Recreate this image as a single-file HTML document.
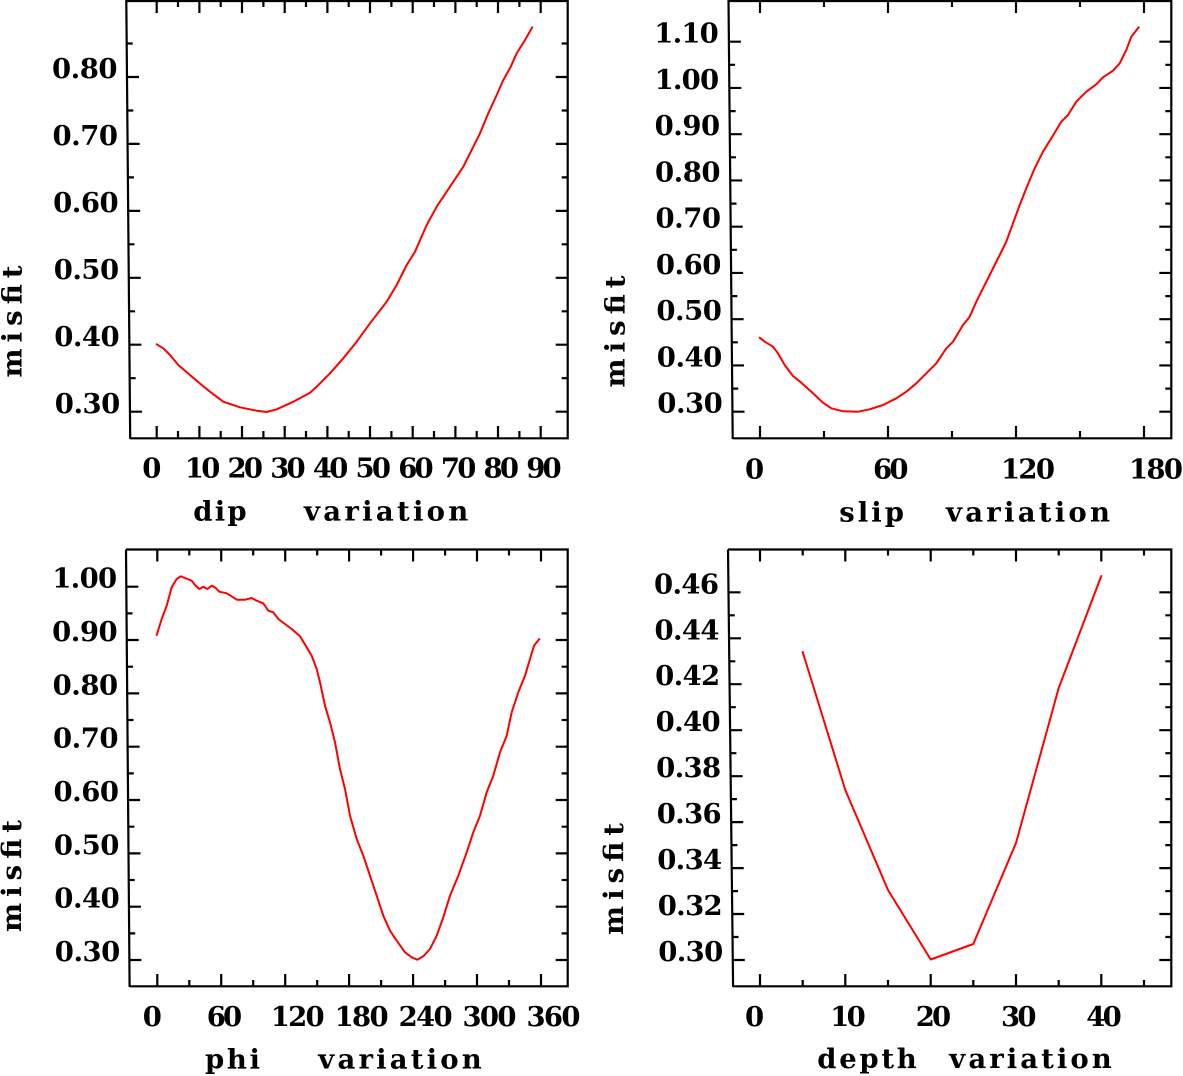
<!DOCTYPE html>
<html><head><meta charset="utf-8"><style>
html,body{margin:0;padding:0;background:#fff;}
svg{display:block;}
text{font-family:"DejaVu Serif","Liberation Serif",serif;font-weight:bold;font-size:27.5px;fill:#000;}
</style></head><body>
<svg width="1183" height="1076" viewBox="0 0 1183 1076" xmlns="http://www.w3.org/2000/svg">
<rect width="1183" height="1076" fill="#fff"/>
<g fill="none" stroke="#000" stroke-width="2.2">
<!-- TL frame -->
<path d="M126.3 0 L130.2 439"/>
<path d="M126.3 1 H567.7 V438.3 H130.2"/>
<path d="M156.7 438V426M199.4 438V426M242 438V426M284.7 438V426M327.4 438V426M370 438V426M412.7 438V426M455.4 438V426M498 438V426M540.7 438V426
M178 438V431M220.7 438V431M263.4 438V431M306 438V431M348.7 438V431M391.4 438V431M434 438V431M476.7 438V431M519.4 438V431
M156.7 1V13M199.4 1V13M242 1V13M284.7 1V13M327.4 1V13M370 1V13M412.7 1V13M455.4 1V13M498 1V13M540.7 1V13
M178 1V7M220.7 1V7M263.4 1V7M306 1V7M348.7 1V7M391.4 1V7M434 1V7M476.7 1V7M519.4 1V7"/>
<path d="M127 77h12M127.6 143.9h12M128.2 210.9h12M128.8 277.8h12M129.4 344.7h12M130 411.7h12
M126.7 43.5h6M127.3 110.5h6M127.9 177.4h6M128.5 244.3h6M129.1 311.3h6M129.7 378.2h6
M567.7 77h-12M567.7 143.9h-12M567.7 210.9h-12M567.7 277.8h-12M567.7 344.7h-12M567.7 411.7h-12
M567.7 43.5h-6M567.7 110.5h-6M567.7 177.4h-6M567.7 244.3h-6M567.7 311.3h-6M567.7 378.2h-6"/>

<!-- TR frame -->
<path d="M728.5 0 L732.7 439"/>
<path d="M728.5 1 H1171.3 V438.3 H732.7"/>
<path d="M760 438V426M888 438V426M1016 438V426M1144 438V426M824 438V431M952 438V431M1080 438V431
M760 1V13M888 1V13M1016 1V13M1144 1V13M824 1V7M952 1V7M1080 1V7"/>
<path d="M728.9 41.7h12M729.3 87.95h12M729.8 134.2h12M730.2 180.45h12M730.7 226.7h12M731.1 272.95h12M731.6 319.2h12M732 365.45h12M732.5 411.7h12
M729.1 64.8h6M729.6 111.1h6M730 157.3h6M730.5 203.6h6M730.9 249.8h6M731.3 296.1h6M731.8 342.3h6M732.2 388.6h6
M1171.3 41.7h-12M1171.3 87.95h-12M1171.3 134.2h-12M1171.3 180.45h-12M1171.3 226.7h-12M1171.3 272.95h-12M1171.3 319.2h-12M1171.3 365.45h-12M1171.3 411.7h-12
M1171.3 64.8h-6M1171.3 111.1h-6M1171.3 157.3h-6M1171.3 203.6h-6M1171.3 249.8h-6M1171.3 296.1h-6M1171.3 342.3h-6M1171.3 388.6h-6"/>

<!-- BL frame -->
<path d="M126 549.5 L129.6 987"/>
<path d="M126 549.5 H567.7 V986.3 H129.6"/>
<path d="M157.3 986V974M221.2 986V974M285.2 986V974M349.1 986V974M413.1 986V974M477 986V974M541 986V974
M189.3 986V980M253.2 986V980M317.2 986V980M381.1 986V980M445.1 986V980M509 986V980
M157.3 549.5V561.5M221.2 549.5V561.5M285.2 549.5V561.5M349.1 549.5V561.5M413.1 549.5V561.5M477 549.5V561.5M541 549.5V561.5
M189.3 549.5V555.5M253.2 549.5V555.5M317.2 549.5V555.5M381.1 549.5V555.5M445.1 549.5V555.5M509 549.5V555.5"/>
<path d="M126.3 586.7h12M126.7 640h12M127.2 693.4h12M127.6 746.7h12M128.1 800h12M128.5 853.4h12M128.9 906.7h12M129.4 960h12
M126.5 613.4h6M127 666.7h6M127.4 720h6M127.8 773.4h6M128.3 826.7h6M128.7 880h6M129.2 933.4h6
M567.7 586.7h-12M567.7 640h-12M567.7 693.4h-12M567.7 746.7h-12M567.7 800h-12M567.7 853.4h-12M567.7 906.7h-12M567.7 960h-12
M567.7 613.4h-6M567.7 666.7h-6M567.7 720h-6M567.7 773.4h-6M567.7 826.7h-6M567.7 880h-6M567.7 933.4h-6"/>

<!-- BR frame -->
<path d="M728 549.5 L733.1 987"/>
<path d="M728 549.5 H1171.3 V986.3 H733.1"/>
<path d="M760 986V974M845.3 986V974M930.7 986V974M1016 986V974M1101.3 986V974
M802.7 986V980M888 986V980M973.3 986V980M1058.7 986V980M1144 986V980
M760 549.5V561.5M845.3 549.5V561.5M930.7 549.5V561.5M1016 549.5V561.5M1101.3 549.5V561.5
M802.7 549.5V555.5M888 549.5V555.5M973.3 549.5V555.5M1058.7 549.5V555.5M1144 549.5V555.5"/>
<path d="M728.5 592.3h12M729 638.3h12M729.6 684.2h12M730.1 730.2h12M730.6 776.2h12M731.2 822.1h12M731.7 868.1h12M732.2 914h12M732.8 960h12
M728.8 615.3h6M729.3 661.3h6M729.8 707.2h6M730.4 753.2h6M730.9 799.1h6M731.4 845.1h6M732 891.1h6M732.5 937h6
M1171.3 592.3h-12M1171.3 638.3h-12M1171.3 684.2h-12M1171.3 730.2h-12M1171.3 776.2h-12M1171.3 822.1h-12M1171.3 868.1h-12M1171.3 914h-12M1171.3 960h-12
M1171.3 615.3h-6M1171.3 661.3h-6M1171.3 707.2h-6M1171.3 753.2h-6M1171.3 799.1h-6M1171.3 845.1h-6M1171.3 891.1h-6M1171.3 937h-6"/>
</g>

<!-- curves -->
<g fill="none" stroke="#ff0000" stroke-width="2" stroke-linejoin="round" stroke-linecap="round">
<polyline points="156.7,344.3 163.3,348.3 170,355 178.3,365 190,375 201.7,385 210,391.7 223.3,401.7 240,407.3 256.7,410.7 266.7,412 276.7,409.3 293.3,401.7 310,392.7 316.7,386.7 330,373.3 343.3,358.3 356.7,341.7 370,323.3 386.7,301.7 396.7,285 406.7,265 415,251.7 426.7,225 436.7,206.7 450,186.7 463.3,166.7 470,153.3 480,133.3 488.3,113.3 496.7,95 503.3,80 510,68.3 516.7,53.3 525,40 532.3,27.3"/>
<polyline points="759.7,337.7 764.7,341.7 773,346.7 778,353.3 784.7,365 793,376 801.3,382.7 813,393.3 823,402.7 831.3,408.3 843,411.3 858,411.7 869.7,409.3 883,405 896.3,398.3 906.3,391.7 916.3,383.3 926.3,373.3 936.3,363.3 946.3,348.3 953,341.7 963,325 969.7,316.7 976.3,301.7 983,288.3 989.7,275 999.7,255 1006.3,241.7 1013,223.3 1019.7,205 1026.3,188.3 1034.7,168.3 1043,151.7 1051.3,138.3 1061.3,121.7 1068,115 1076.3,101.7 1086.3,91.7 1096.3,84.3 1103,77.3 1113,70.7 1119.7,63.3 1126.3,50 1131.3,36.7 1138.7,27.3"/>
<polyline points="156.7,635 161.7,619 166.7,605.7 171.7,587.3 176.7,579 180.7,576.3 185,578 191.7,580.7 195,585 199.3,589 203.3,586.7 207.3,589 211.7,585.7 215,587.3 219.3,591.7 226.7,593.3 231.7,596.3 236.7,599.7 245,599.7 251.7,598 256.7,600.7 263.3,603.3 268.3,610.7 273.3,612.3 278.3,619 285,624 291.7,629 300,636.3 306.7,647.3 311.7,655.7 316.7,669 320,682.3 325,705.7 330,722.3 335,742.3 340,769 345,789 350,815.7 356.7,839 363.3,855.7 370,875.7 376.7,895.7 383.3,915.7 390,930.7 396.7,940.7 405,952.3 411.7,957.3 417.3,959.7 423.3,956.3 430,949 436.7,935.7 443.3,917.3 450,895.7 458.3,875.7 466.7,852.3 473.3,832.3 480,815.7 486.7,792.3 493.3,775.7 500,752.3 506.7,735.7 511.7,712.3 518.3,692.3 525,675.7 530,659 534,645.7 539.3,639"/>
<polyline points="802.7,652 845.3,790 888,890 930.7,959.5 973.3,944 1016,843 1058.7,688 1101.3,576"/>
</g>

<!-- TL labels -->
<g>
<text x="52" y="78" textLength="65.5" lengthAdjust="spacing">0.80</text>
<text x="52.5" y="145" textLength="65.5" lengthAdjust="spacing">0.70</text>
<text x="53.1" y="212" textLength="65.5" lengthAdjust="spacing">0.60</text>
<text x="53.7" y="279" textLength="65.5" lengthAdjust="spacing">0.50</text>
<text x="54.2" y="346" textLength="65.5" lengthAdjust="spacing">0.40</text>
<text x="54.8" y="413" textLength="65.5" lengthAdjust="spacing">0.30</text>

<text x="142.2" y="477.7">0</text>
<text x="184.9" y="477.7" textLength="35.5" lengthAdjust="spacing">10</text>
<text x="227.5" y="477.7" textLength="35.5" lengthAdjust="spacing">20</text>
<text x="270.2" y="477.7" textLength="35.5" lengthAdjust="spacing">30</text>
<text x="312.9" y="477.7" textLength="35.5" lengthAdjust="spacing">40</text>
<text x="355.5" y="477.7" textLength="35.5" lengthAdjust="spacing">50</text>
<text x="398.2" y="477.7" textLength="35.5" lengthAdjust="spacing">60</text>
<text x="440.9" y="477.7" textLength="35.5" lengthAdjust="spacing">70</text>
<text x="483.5" y="477.7" textLength="35.5" lengthAdjust="spacing">80</text>
<text x="526.2" y="477.7" textLength="35.5" lengthAdjust="spacing">90</text>

<text x="193.3" y="520.5" textLength="53.3" lengthAdjust="spacing">dip</text>
<text x="304" y="520.5" textLength="164.3" lengthAdjust="spacing">variation</text>
<text transform="translate(21.5,321.5) rotate(-90)" x="-56" y="0" textLength="112" lengthAdjust="spacing">misfit</text>
</g>

<!-- TR labels -->
<g>
<text x="654.3" y="42.7" textLength="64.5" lengthAdjust="spacing">1.10</text>
<text x="654.6" y="89" textLength="64.5" lengthAdjust="spacing">1.00</text>
<text x="654.6" y="135" textLength="65.5" lengthAdjust="spacing">0.90</text>
<text x="655" y="181.5" textLength="65.5" lengthAdjust="spacing">0.80</text>
<text x="655.5" y="227.7" textLength="65.5" lengthAdjust="spacing">0.70</text>
<text x="655.9" y="274" textLength="65.5" lengthAdjust="spacing">0.60</text>
<text x="656.4" y="320" textLength="65.5" lengthAdjust="spacing">0.50</text>
<text x="656.8" y="366.5" textLength="65.5" lengthAdjust="spacing">0.40</text>
<text x="657.3" y="412.7" textLength="65.5" lengthAdjust="spacing">0.30</text>

<text x="745" y="478.3">0</text>
<text x="873" y="478.3" textLength="35.5" lengthAdjust="spacing">60</text>
<text x="1001" y="478.3" textLength="54" lengthAdjust="spacing">120</text>
<text x="1129" y="478.3" textLength="54" lengthAdjust="spacing">180</text>

<text x="839.3" y="521.5" textLength="64.7" lengthAdjust="spacing">slip</text>
<text x="946" y="521.5" textLength="164" lengthAdjust="spacing">variation</text>
<text transform="translate(624.5,331.5) rotate(-90)" x="-56" y="0" textLength="112" lengthAdjust="spacing">misfit</text>
</g>

<!-- BL labels -->
<g>
<text x="52.2" y="587.7" textLength="65" lengthAdjust="spacing">1.00</text>
<text x="52.1" y="641" textLength="65.5" lengthAdjust="spacing">0.90</text>
<text x="52.6" y="694.4" textLength="65.5" lengthAdjust="spacing">0.80</text>
<text x="53" y="747.7" textLength="65.5" lengthAdjust="spacing">0.70</text>
<text x="53.5" y="801" textLength="65.5" lengthAdjust="spacing">0.60</text>
<text x="53.9" y="854.4" textLength="65.5" lengthAdjust="spacing">0.50</text>
<text x="54.3" y="907.7" textLength="65.5" lengthAdjust="spacing">0.40</text>
<text x="54.8" y="961" textLength="65.5" lengthAdjust="spacing">0.30</text>

<text x="142.8" y="1026">0</text>
<text x="206.7" y="1026" textLength="35.5" lengthAdjust="spacing">60</text>
<text x="270.7" y="1026" textLength="54" lengthAdjust="spacing">120</text>
<text x="334.6" y="1026" textLength="54" lengthAdjust="spacing">180</text>
<text x="398.6" y="1026" textLength="54" lengthAdjust="spacing">240</text>
<text x="462.5" y="1026" textLength="54" lengthAdjust="spacing">300</text>
<text x="526.5" y="1026" textLength="54" lengthAdjust="spacing">360</text>

<text x="205" y="1068.3" textLength="55" lengthAdjust="spacing">phi</text>
<text x="318.3" y="1068.3" textLength="163.4" lengthAdjust="spacing">variation</text>
<text transform="translate(21,876) rotate(-90)" x="-56" y="0" textLength="112" lengthAdjust="spacing">misfit</text>
</g>

<!-- BR labels -->
<g>
<text x="654" y="593.3" textLength="65" lengthAdjust="spacing">0.46</text>
<text x="654.5" y="639.3" textLength="65" lengthAdjust="spacing">0.44</text>
<text x="655.1" y="685.2" textLength="65" lengthAdjust="spacing">0.42</text>
<text x="655.6" y="731.2" textLength="65" lengthAdjust="spacing">0.40</text>
<text x="656.1" y="777.2" textLength="65" lengthAdjust="spacing">0.38</text>
<text x="656.7" y="823.1" textLength="65" lengthAdjust="spacing">0.36</text>
<text x="657.2" y="869.1" textLength="65" lengthAdjust="spacing">0.34</text>
<text x="657.7" y="915" textLength="65" lengthAdjust="spacing">0.32</text>
<text x="658.3" y="961" textLength="65" lengthAdjust="spacing">0.30</text>

<text x="745" y="1026">0</text>
<text x="830.3" y="1026" textLength="35.5" lengthAdjust="spacing">10</text>
<text x="915.7" y="1026" textLength="35.5" lengthAdjust="spacing">20</text>
<text x="1001" y="1026" textLength="35.5" lengthAdjust="spacing">30</text>
<text x="1086.3" y="1026" textLength="35.5" lengthAdjust="spacing">40</text>

<text x="817.3" y="1068" textLength="99.4" lengthAdjust="spacing">depth</text>
<text x="949.3" y="1068" textLength="162.4" lengthAdjust="spacing">variation</text>
<text transform="translate(623,879) rotate(-90)" x="-56" y="0" textLength="112" lengthAdjust="spacing">misfit</text>
</g>
</svg>
</body></html>
